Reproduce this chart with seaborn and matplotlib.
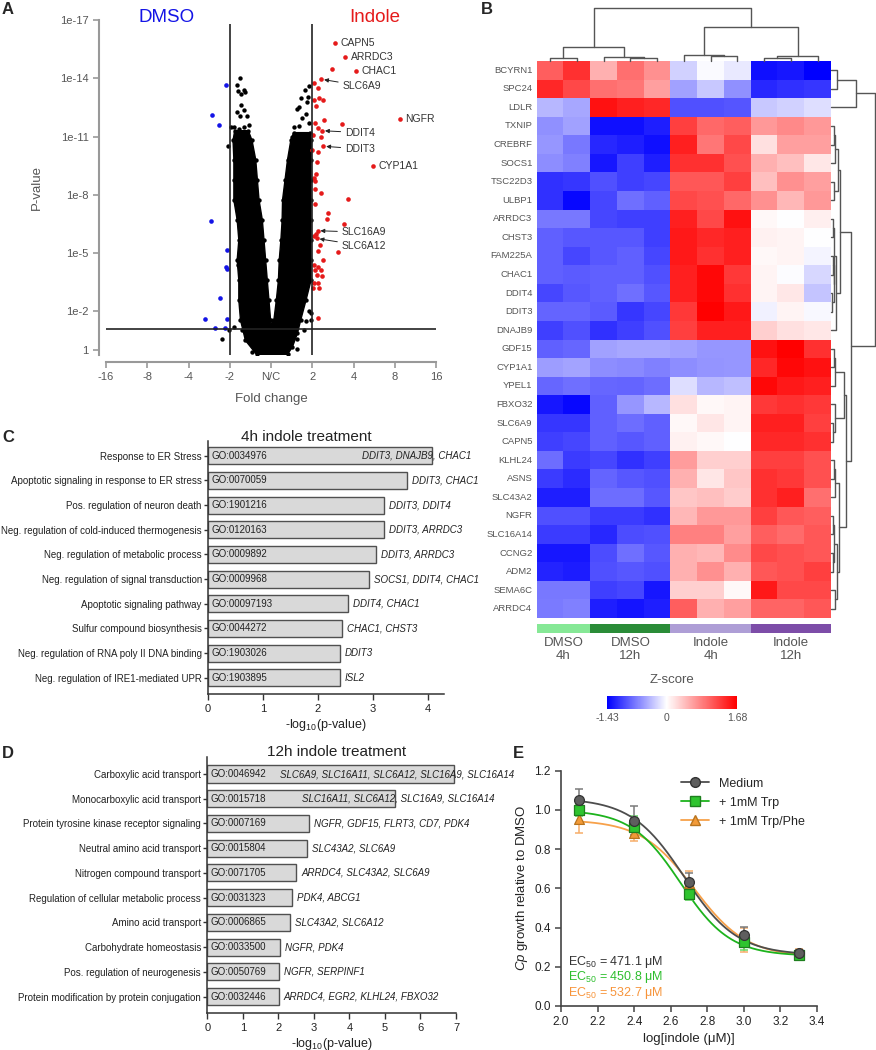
import numpy as np
import pandas as pd
import matplotlib
matplotlib.use('Agg')
import matplotlib.pyplot as plt
import seaborn as sns
from matplotlib.colors import LinearSegmentedColormap, ListedColormap
from matplotlib.lines import Line2D

# ---------------- data ----------------
# A: volcano (x = log2 fold change, y = -log10 p)
# outline of the dense black cloud of non-significant genes
cloud_fc = [-0.35, -0.62, -0.74, -0.78, -0.78, -0.82, -0.78, -0.82, -0.90, -0.90, -0.90, -0.92, -0.88,
            -0.55, -0.46, -0.37, -0.33, -0.29, -0.21, -0.17, -0.13, -0.09, -0.05, -0.01,
            0.0,
            0.07, 0.13, 0.18, 0.20, 0.24, 0.27, 0.28, 0.34, 0.40, 0.48, 0.55,
            0.95, 0.98, 0.97, 0.97, 0.97, 0.97, 0.97, 0.97, 0.97, 0.85, 0.72, 0.64, 0.52, 0.40]
cloud_p = [-0.22, 0.5, 1.55, 2.58, 3.6, 4.64, 5.67, 6.7, 7.73, 8.76, 9.8, 10.8, 11.3,
           11.3, 10.8, 9.8, 8.76, 7.73, 6.7, 5.67, 4.64, 3.6, 2.58, 1.55,
           1.3,
           1.55, 2.58, 3.6, 4.64, 5.67, 6.7, 7.73, 8.76, 9.8, 10.8, 11.2,
           11.2, 10.8, 9.8, 8.76, 7.73, 6.7, 5.67, 4.64, 3.6, 2.58, 1.55, 0.86, 0.17, -0.22]
# individual black points (sparse tops of the two lobes and outliers)
stray_fc = [-1.04, -1.19, -1.01, -0.71, -0.66, -0.47, 0.64, 0.62, 0.80, 0.85, 0.93, 0.97, 0.97, -0.97, -0.88,
            0.50, 0.70, -0.89, -0.80,
            -0.76, -0.82, -0.80, -0.66, -0.62, -0.72, -0.72, -0.65, -0.82, -0.74, -0.58, -0.54, -0.66, -0.90, -0.78,
            0.93, 0.83, 0.89, 0.72, 0.87, 0.68, 0.62, 0.85, 0.76, 0.91, 0.67, 0.56]
stray_p = [10.5, 0.55, 1.03, 1.03, 1.97, -0.09, 0.05, 0.55, 1.03, 1.5, 2.0, 1.9, 1.55, 11.5, 9.8,
           11.0, 10.9, 1.2, 4.4,
           14.0, 13.66, 13.35, 13.4, 13.3, 13.2, 12.63, 12.37, 12.28, 12.06, 12.06, 11.6, 11.5, 11.5, 11.4,
           13.6, 13.37, 13.06, 13.0, 12.8, 12.5, 12.44, 12.16, 11.97, 11.69, 11.55, 11.48]
blue_fc = [-1.08, -1.42, -1.27, -1.45, -1.07, -1.08, -1.07, -1.24, -1.61, -1.07, -1.35, -1.12]
blue_p = [13.65, 12.1, 11.6, 6.67, 5.15, 4.3, 4.2, 2.66, 1.6, 1.6, 1.12, 1.15]
red_fc = [1.48, 1.05, 1.13, 1.17, 1.25, 1.05, 1.09, 1.29, 1.72, 1.07, 1.15, 1.21, 1.01, 1.15, 1.00, 1.11,
          1.09, 1.05, 1.07, 1.06, 1.21, 1.86, 1.07, 1.37, 1.36, 1.78, 1.05, 1.09, 1.19, 1.15, 1.63, 1.25,
          1.05, 1.13, 1.07, 1.21, 1.11, 1.24, 1.05, 1.15, 1.01, 1.17, 1.13]
red_p = [14.5, 13.75, 13.5, 13.0, 12.9, 12.9, 12.55, 11.85, 11.65, 11.7, 11.45, 11.0, 11.1, 10.2, 10.3, 9.7,
         9.05, 8.85, 8.7, 8.3, 8.1, 7.8, 7.5, 7.05, 6.75, 6.5, 5.9, 6.0, 5.4, 5.1, 5.05, 4.65,
         4.4, 4.3, 4.15, 4.15, 3.85, 3.8, 3.45, 3.45, 3.2, 3.2, 1.63]
label_genes = ['CAPN5', 'ARRDC3', 'CHAC1', 'SLC6A9', 'NGFR', 'DDIT4', 'DDIT3', 'CYP1A1', 'SLC16A9', 'SLC6A12']
label_fc = [1.55, 1.80, 2.07, 1.22, 3.12, 1.24, 1.27, 2.47, 1.13, 1.11]
label_p = [15.8, 15.1, 14.35, 13.95, 11.9, 11.3, 10.5, 9.5, 6.15, 5.75]
p_cut = 1.1
fc_ticks = [-4, -3, -2, -1, 0, 1, 2, 3, 4]
fc_ticklabels = ['-16', '-8', '-4', '-2', 'N/C', '2', '4', '8', '16']
p_ticks = [0, 2, 5, 8, 11, 14, 17]
p_ticklabels = ['1', '1e-2', '1e-5', '1e-8', '1e-11', '1e-14', '1e-17']

# B: heatmap
genes = ['BCYRN1', 'SPC24', 'LDLR', 'TXNIP', 'CREBRF', 'SOCS1', 'TSC22D3', 'ULBP1', 'ARRDC3', 'CHST3',
         'FAM225A', 'CHAC1', 'DDIT4', 'DDIT3', 'DNAJB9', 'GDF15', 'CYP1A1', 'YPEL1', 'FBXO32', 'SLC6A9',
         'CAPN5', 'KLHL24', 'ASNS', 'SLC43A2', 'NGFR', 'SLC16A14', 'CCNG2', 'ADM2', 'SEMA6C', 'ARRDC4']
zscores = [
    [1.05, 1.36, 0.52, 0.94, 0.73, -0.26, -0.03, -0.13, -1.34, -1.30, -1.43],
    [1.42, 1.20, 0.94, 0.90, 0.63, -0.53, -0.31, -0.62, -1.20, -1.16, -1.12],
    [-0.40, -0.49, 1.57, 1.47, 1.42, -0.98, -0.98, -0.95, -0.31, -0.26, -0.18],
    [-0.62, -0.53, -1.34, -1.34, -1.25, 1.26, 0.99, 1.05, 0.68, 0.78, 0.68],
    [-0.58, -0.76, -1.20, -1.25, -1.34, 1.47, 0.90, 1.20, 0.20, 0.63, 0.63],
    [-0.64, -0.71, -1.30, -1.07, -1.25, 1.36, 1.36, 1.15, 0.52, 0.42, 0.15],
    [-1.16, -1.12, -0.98, -1.07, -1.03, 1.10, 1.10, 1.26, 0.42, 0.73, 0.63],
    [-1.16, -1.39, -1.03, -0.80, -0.89, 1.20, 1.15, 0.99, 0.73, 0.47, 0.68],
    [-0.76, -0.76, -1.03, -1.07, -1.07, 1.47, 1.20, 1.57, 0.05, 0.00, 0.11],
    [-0.89, -0.94, -0.94, -0.94, -1.07, 1.52, 1.42, 1.47, 0.10, 0.07, 0.00],
    [-0.89, -1.03, -0.94, -0.89, -1.03, 1.52, 1.36, 1.47, 0.05, 0.07, -0.06],
    [-0.89, -0.91, -0.89, -0.89, -0.98, 1.47, 1.63, 1.31, 0.07, -0.02, -0.22],
    [-1.03, -0.94, -0.89, -0.80, -0.94, 1.47, 1.63, 1.36, 0.07, 0.15, -0.33],
    [-0.87, -0.87, -0.91, -1.12, -1.03, 1.31, 1.68, 1.52, -0.08, 0.07, -0.04],
    [-1.07, -0.98, -1.16, -1.07, -0.98, 1.26, 1.47, 1.47, 0.31, 0.20, 0.15],
    [-0.89, -0.85, -0.53, -0.49, -0.49, -0.53, -0.58, -0.58, 1.57, 1.68, 1.36],
    [-0.55, -0.51, -0.64, -0.66, -0.71, -0.64, -0.60, -0.58, 1.42, 1.63, 1.57],
    [-0.85, -0.80, -0.85, -0.87, -0.82, -0.18, -0.40, -0.35, 1.63, 1.52, 1.47],
    [-1.30, -1.39, -0.89, -0.58, -0.40, 0.20, 0.05, 0.07, 1.31, 1.36, 1.31],
    [-1.12, -1.12, -0.89, -0.82, -0.89, 0.05, 0.17, 0.07, 1.47, 1.47, 1.26],
    [-1.07, -1.03, -0.89, -0.94, -0.89, 0.10, 0.05, 0.00, 1.42, 1.42, 1.36],
    [-0.82, -1.09, -1.03, -1.16, -1.07, 0.65, 0.31, 0.31, 1.26, 1.26, 1.15],
    [-1.09, -1.18, -0.87, -0.94, -0.98, 0.52, 0.17, 0.37, 1.36, 1.31, 1.15],
    [-1.25, -1.25, -0.82, -0.82, -0.94, 0.37, 0.42, 0.34, 1.36, 1.47, 0.94],
    [-0.98, -0.98, -1.09, -1.09, -1.16, 0.47, 0.68, 0.68, 1.26, 1.10, 1.05],
    [-1.09, -1.09, -1.20, -1.00, -0.98, 0.84, 0.84, 0.63, 1.05, 0.97, 1.10],
    [-1.30, -1.30, -1.00, -0.80, -0.94, 0.52, 0.47, 0.76, 1.20, 1.15, 1.10],
    [-1.23, -1.27, -0.98, -0.94, -0.98, 0.52, 0.73, 0.52, 1.10, 1.15, 1.26],
    [-0.76, -0.76, -1.07, -1.03, -1.30, 0.31, 0.31, 0.05, 1.52, 1.20, 1.20],
    [-0.74, -0.71, -1.25, -1.32, -1.25, 1.05, 0.52, 0.63, 1.02, 1.02, 1.10],
]
group_names = ['DMSO\n4h', 'DMSO\n12h', 'Indole\n4h', 'Indole\n12h']
group_sizes = [2, 3, 3, 3]
group_colors = ['#86E896', '#2A8C38', '#AE9ED6', '#7D4DA8']
z_min, z_max = -1.43, 1.68
# dendrograms: (left, right, height), leaves are column/row indices
col_tree = (((0, 1, 8), (2, (3, 4, 8), 13), 43),
            ((5, (6, 7, 14), 18), ((8, 9, 10), 10, 15), 101), 161)
row_tree = (((0, 1, 17), 2, 77),
            (((((3, 4, 8), 5, 13), (6, 7, 10), 22),
              (((8, 9, 6), ((10, 11, 5), (12, 13, 4), 8), 10), 14, 14), 27),
             ((((15, 16, 8), 17, 12), (18, (19, 20, 6), 12), 40),
              (((21, 22, 8), 23, 12), (((24, 25, 7), (26, 27, 5), 10), (28, 29, 12), 18), 25), 45), 62), 132)

# C: GO terms 4h
cats_4h = ['Response to ER Stress', 'Apoptotic signaling in response to ER stress',
           'Pos. regulation of neuron death', 'Neg. regulation of cold-induced thermogenesis',
           'Neg. regulation of metabolic process', 'Neg. regulation of signal transduction',
           'Apoptotic signaling pathway', 'Sulfur compound biosynthesis',
           'Neg. regulation of RNA poly II DNA binding', 'Neg. regulation of IRE1-mediated UPR']
go_4h = ['GO:0034976', 'GO:0070059', 'GO:1901216', 'GO:0120163', 'GO:0009892',
         'GO:0009968', 'GO:00097193', 'GO:0044272', 'GO:1903026', 'GO:1903895']
logp_4h = [4.08, 3.62, 3.2, 3.2, 3.05, 2.93, 2.54, 2.44, 2.4, 2.4]
genes_4h = ['DDIT3, DNAJB9, CHAC1', 'DDIT3, CHAC1', 'DDIT3, DDIT4', 'DDIT3, ARRDC3', 'DDIT3, ARRDC3',
            'SOCS1, DDIT4, CHAC1', 'DDIT4, CHAC1', 'CHAC1, CHST3', 'DDIT3', 'ISL2']

# D: GO terms 12h
cats_12h = ['Carboxylic acid transport', 'Monocarboxylic acid transport',
            'Protein tyrosine kinase receptor signaling', 'Neutral amino acid transport',
            'Nitrogen compound transport', 'Regulation of cellular metabolic process',
            'Amino acid transport', 'Carbohydrate homeostasis', 'Pos. regulation of neurogenesis',
            'Protein modification by protein conjugation']
go_12h = ['GO:0046942', 'GO:0015718', 'GO:0007169', 'GO:0015804', 'GO:0071705',
          'GO:0031323', 'GO:0006865', 'GO:0033500', 'GO:0050769', 'GO:0032446']
logp_12h = [6.95, 5.27, 2.87, 2.82, 2.51, 2.39, 2.33, 2.05, 2.02, 2.02]
genes_12h = ['SLC6A9, SLC16A11, SLC6A12, SLC16A9, SLC16A14', 'SLC16A11, SLC6A12, SLC16A9, SLC16A14',
             'NGFR, GDF15, FLRT3, CD7, PDK4', 'SLC43A2, SLC6A9', 'ARRDC4, SLC43A2, SLC6A9',
             'PDK4, ABCG1', 'SLC43A2, SLC6A12', 'NGFR, PDK4', 'NGFR, SERPINF1',
             'ARRDC4, EGR2, KLHL24, FBXO32']

# E: dose response
log_indole = [2.1, 2.4, 2.7, 3.0, 3.3]
med_y = [1.05, 0.945, 0.63, 0.36, 0.27]
med_err = [0.055, 0.075, 0.05, 0.045, 0.015]
trp_y = [1.0, 0.915, 0.57, 0.325, 0.258]
trp_err = [0.03, 0.055, 0.03, 0.04, 0.012]
phe_y = [0.952, 0.884, 0.625, 0.337, 0.27]
phe_err = [0.072, 0.045, 0.065, 0.06, 0.02]
fit_top = [1.06, 1.0, 0.95]
fit_bottom = [0.26, 0.255, 0.25]
fit_ec50 = [471.1, 450.8, 532.7]
fit_hill = [3.0, 3.2, 3.0]

# ---------------- style ----------------
sns.set_style('ticks')
plt.rcParams['font.family'] = ['Liberation Sans', 'DejaVu Sans']
plt.rcParams['mathtext.fontset'] = 'custom'
plt.rcParams['mathtext.rm'] = 'Liberation Sans'
plt.rcParams['mathtext.it'] = 'Liberation Sans:italic'
plt.rcParams['mathtext.bf'] = 'Liberation Sans:bold'

W, H = 876, 1050
fig = plt.figure(figsize=(W / 100, H / 100), dpi=100)


def axes_px(l, t, r, b):
    return fig.add_axes([l / W, 1 - b / H, (r - l) / W, (b - t) / H])


def text_px(x, y, s, **kw):
    fig.text(x / W, 1 - y / H, s, **kw)


for letter, (lx, ly) in zip('ABCDE', [(8, 10), (487, 10), (8, 438), (8, 753), (518, 753)]):
    text_px(lx, ly, letter, fontsize=12, fontweight='bold', ha='center', va='center')

# ---------------- A ----------------
axA = axes_px(106, 20, 436, 355)
axA.fill(cloud_fc, cloud_p, color='black', lw=1.0, zorder=1)
sns.scatterplot(x=cloud_fc, y=cloud_p, color='black', s=10, linewidth=0, ax=axA, zorder=2)
sns.scatterplot(x=stray_fc, y=stray_p, color='black', s=10, linewidth=0, ax=axA, zorder=2)
sns.scatterplot(x=blue_fc, y=blue_p, color='#1414E6', s=11, linewidth=0, ax=axA, zorder=3)
sns.scatterplot(x=red_fc + label_fc, y=red_p + label_p, color='#E51A1A', s=11, linewidth=0, ax=axA, zorder=3)
axA.vlines([-1, 1], -0.25, 16.8, color='#222222', lw=1.2, zorder=4)
axA.hlines(p_cut, -4, 4, color='#222222', lw=1.2, zorder=4)
arrow_text = {'SLC6A9': (1.74, 13.6), 'DDIT4': (1.80, 11.2), 'DDIT3': (1.80, 10.36),
              'SLC16A9': (1.72, 6.07), 'SLC6A12': (1.72, 5.36)}
for g, fx, py in zip(label_genes, label_fc, label_p):
    if g in arrow_text:
        axA.annotate(g, (fx, py), xytext=arrow_text[g], textcoords='data', fontsize=7.5,
                     color='#333333', va='center', ha='left',
                     arrowprops=dict(arrowstyle='-|>', color='#222222', lw=0.7,
                                     mutation_scale=6, shrinkA=1, shrinkB=2))
    else:
        axA.annotate(g, (fx, py), xytext=(4, 0), textcoords='offset points', fontsize=7.5,
                     color='#333333', va='center', ha='left')
axA.set_xlim(-4, 4)
axA.set_ylim(-0.25, 17)
axA.set_xticks(fc_ticks, fc_ticklabels)
axA.set_yticks(p_ticks, p_ticklabels)
sns.despine(ax=axA, offset=5)
for s in ['left', 'bottom']:
    axA.spines[s].set_color('#999999')
    axA.spines[s].set_linewidth(1.5)
axA.tick_params(colors='#999999', labelcolor='#555555', labelsize=8, length=4, width=1.2)
axA.set_xlabel('Fold change', fontsize=9.5, color='#555555', labelpad=8)
axA.set_ylabel('P-value', fontsize=9.5, color='#555555', labelpad=12)
text_px(167, 17, 'DMSO', fontsize=13.5, color='#1414E6', ha='center', va='center')
text_px(375, 17, 'Indole', fontsize=13.5, color='#E51A1A', ha='center', va='center')

# ---------------- B ----------------
col_w = (831 - 536.7) / 11
axH = axes_px(536.7, 61, 831, 618)
axCb = axes_px(607, 696, 737, 709)
cmap_z = LinearSegmentedColormap.from_list(
    'zs', [(0, '#0000FF'), (-z_min / (z_max - z_min), '#FFFFFF'), (1, '#FF0000')])
zdf = pd.DataFrame(zscores, index=genes)
sns.heatmap(zdf, ax=axH, cmap=cmap_z, vmin=z_min, vmax=z_max, xticklabels=False,
            yticklabels=genes, cbar_ax=axCb,
            cbar_kws={'orientation': 'horizontal', 'ticks': [z_min, 0, z_max]})
axH.tick_params(axis='y', length=0, labelsize=6.8, labelcolor='#555555', pad=3)
axH.set_yticklabels(genes, rotation=0)
cb = axH.collections[0].colorbar
cb.outline.set_visible(False)
cb.set_ticklabels(['-1.43', '0', '1.68'])
cb.ax.tick_params(length=0, labelsize=7.5, labelcolor='#555555', pad=3)
text_px(672, 680, 'Z-score', fontsize=9.5, color='#555555', ha='center', va='center')

axG = axes_px(536.7, 624, 831, 633)
group_idx = [[i for i, n in enumerate(group_sizes) for _ in range(n)]]
sns.heatmap(group_idx, ax=axG, cmap=ListedColormap(group_colors), vmin=-0.5, vmax=3.5,
            cbar=False, xticklabels=False, yticklabels=False)
start = 0
for name, n in zip(group_names, group_sizes):
    text_px(536.7 + (start + n / 2) * col_w, 637, name, fontsize=9.5, color='#555555',
            ha='center', va='top', linespacing=1.15)
    start += n


def draw_tree(ax, node, side):
    if isinstance(node, int):
        return node + 0.5, 0.0
    left, right, h = node
    p1, h1 = draw_tree(ax, left, side)
    p2, h2 = draw_tree(ax, right, side)
    pos = [p1, p1, p2, p2]
    hts = [h1, h, h, h2]
    if side == 'top':
        ax.plot(pos, hts, color='#555555', lw=1.0, clip_on=False)
    else:
        ax.plot(hts, pos, color='#555555', lw=1.0, clip_on=False)
    return (p1 + p2) / 2, h


axDt = axes_px(536.7, 7.5, 831, 61)
draw_tree(axDt, col_tree, 'top')
axDt.set_xlim(0, 11)
axDt.set_ylim(0, 161)
axDt.axis('off')
axDr = axes_px(831, 61, 874.5, 618)
draw_tree(axDr, row_tree, 'right')
axDr.set_ylim(30, 0)
axDr.set_xlim(0, 132)
axDr.axis('off')


# ---------------- C / D ----------------
def go_panel(ax, cats, gos, vals, gene_txt, xmax, inside_start):
    sns.barplot(x=vals, y=cats, orient='h', color='#D9D9D9', edgecolor='#505050',
                linewidth=1.0, width=0.69, saturation=1, ax=ax)
    for i, (go, v, g) in enumerate(zip(gos, vals, gene_txt)):
        ax.annotate(go, (0, i), xytext=(2.5, 0), textcoords='offset points',
                    va='center', ha='left', fontsize=7, color='#222222')
        if i in inside_start:
            ax.annotate(g, (inside_start[i], i), va='center', ha='left', fontsize=7,
                        style='italic', color='#222222', annotation_clip=False)
        else:
            ax.annotate(g, (v, i), xytext=(3.5, 0), textcoords='offset points', va='center',
                        ha='left', fontsize=7, style='italic', color='#222222',
                        annotation_clip=False)
    ax.set_xlim(0, xmax)
    ax.set_xticks(range(0, int(xmax) + 1))
    ax.set_ylabel('')
    ax.set_xlabel('-log$_{10}$(p-value)', fontsize=9, color='#222222', labelpad=2)
    sns.despine(ax=ax)
    for s in ['left', 'bottom']:
        ax.spines[s].set_color('#333333')
        ax.spines[s].set_linewidth(1.1)
    ax.tick_params(axis='y', labelsize=7, length=3, width=1, colors='#333333', labelcolor='#222222', pad=1.5)
    ax.tick_params(axis='x', labelsize=8, length=4, width=1, colors='#333333', labelcolor='#222222')


axC = axes_px(208, 441, 444.5, 694)
go_panel(axC, cats_4h, go_4h, logp_4h, genes_4h, 4.3, {0: 2.8})
axC.set_ylim(9.66, -0.6)
text_px(306, 437, '4h indole treatment', fontsize=11, color='#222222', ha='center', va='center')

axD = axes_px(207.3, 756.7, 456, 1012.7)
go_panel(axD, cats_12h, go_12h, logp_12h, genes_12h, 7, {0: 2.05, 1: 2.66})
axD.set_ylim(9.65, -0.7)
text_px(337, 752, '12h indole treatment', fontsize=11, color='#222222', ha='center', va='center')

# ---------------- E ----------------
axE = axes_px(561, 770.7, 817, 1006)
series = [('+ 1mM Trp/Phe', phe_y, phe_err, '^', '#F29A38', '#B8741E', '#F7A14A', '#F7AE6A', 2),
          ('+ 1mM Trp', trp_y, trp_err, 's', '#2FC42F', '#1E7F1E', '#1DB31D', '#63D863', 1),
          ('Medium', med_y, med_err, 'o', '#5E5E5E', '#333333', '#4D4D4D', '#7A7A7A', 0)]
xfit = np.linspace(log_indole[0], log_indole[-1], 200)
for name, ys, errs, mk, fc, ec, lc, erc, k in series:
    yfit = fit_bottom[k] + (fit_top[k] - fit_bottom[k]) / (
        1 + 10 ** ((xfit - np.log10(fit_ec50[k])) * fit_hill[k]))
    sns.lineplot(x=xfit, y=yfit, color=lc, lw=1.3, ax=axE)
    axE.errorbar(log_indole, ys, yerr=errs, fmt='none', ecolor=erc, elinewidth=1.1, capsize=3, capthick=1.1)
    sns.scatterplot(x=log_indole, y=ys, marker=mk, s=50, color=fc, edgecolor=ec, linewidth=0.9,
                    ax=axE, zorder=5)
axE.set_xlim(2.0, 3.4)
axE.set_ylim(0, 1.2)
axE.set_xticks(np.round(np.arange(2.0, 3.41, 0.2), 1))
axE.set_yticks(np.round(np.arange(0, 1.21, 0.2), 1))
axE.xaxis.set_major_formatter(matplotlib.ticker.FormatStrFormatter('%.1f'))
axE.yaxis.set_major_formatter(matplotlib.ticker.FormatStrFormatter('%.1f'))
sns.despine(ax=axE)
for s in ['left', 'bottom']:
    axE.spines[s].set_color('#444444')
    axE.spines[s].set_linewidth(1.2)
axE.tick_params(labelsize=8.5, length=4, width=1.1, colors='#444444', labelcolor='#222222')
axE.set_xlabel('log[indole (μM)]', fontsize=9.5, color='#222222', labelpad=3)
axE.set_ylabel(r'$\it{Cp}$ growth relative to DMSO', fontsize=9.5, color='#222222', labelpad=3)
handles = [Line2D([0], [0], color=s[6], marker=s[3], mfc=s[4], mec=s[5], ms=7, lw=1.3)
           for s in series[::-1]]
axE.legend(handles, [s[0] for s in series[::-1]], loc='upper left', bbox_to_anchor=(0.47, 0.97),
           frameon=False, fontsize=9, handlelength=2.2, borderaxespad=0, borderpad=0,
           labelspacing=0.55, handletextpad=0.8)
ec_colors = ['#333333', '#2DBE2D', '#F7943A']
ec_y = [0.187, 0.123, 0.057]
for k in range(3):
    axE.text(0.027, ec_y[k], 'EC$_{50}$ = %.1f μM' % fit_ec50[k], transform=axE.transAxes,
             fontsize=9, color=ec_colors[k], va='center', ha='left')

fig.savefig('out.png', dpi=100)
